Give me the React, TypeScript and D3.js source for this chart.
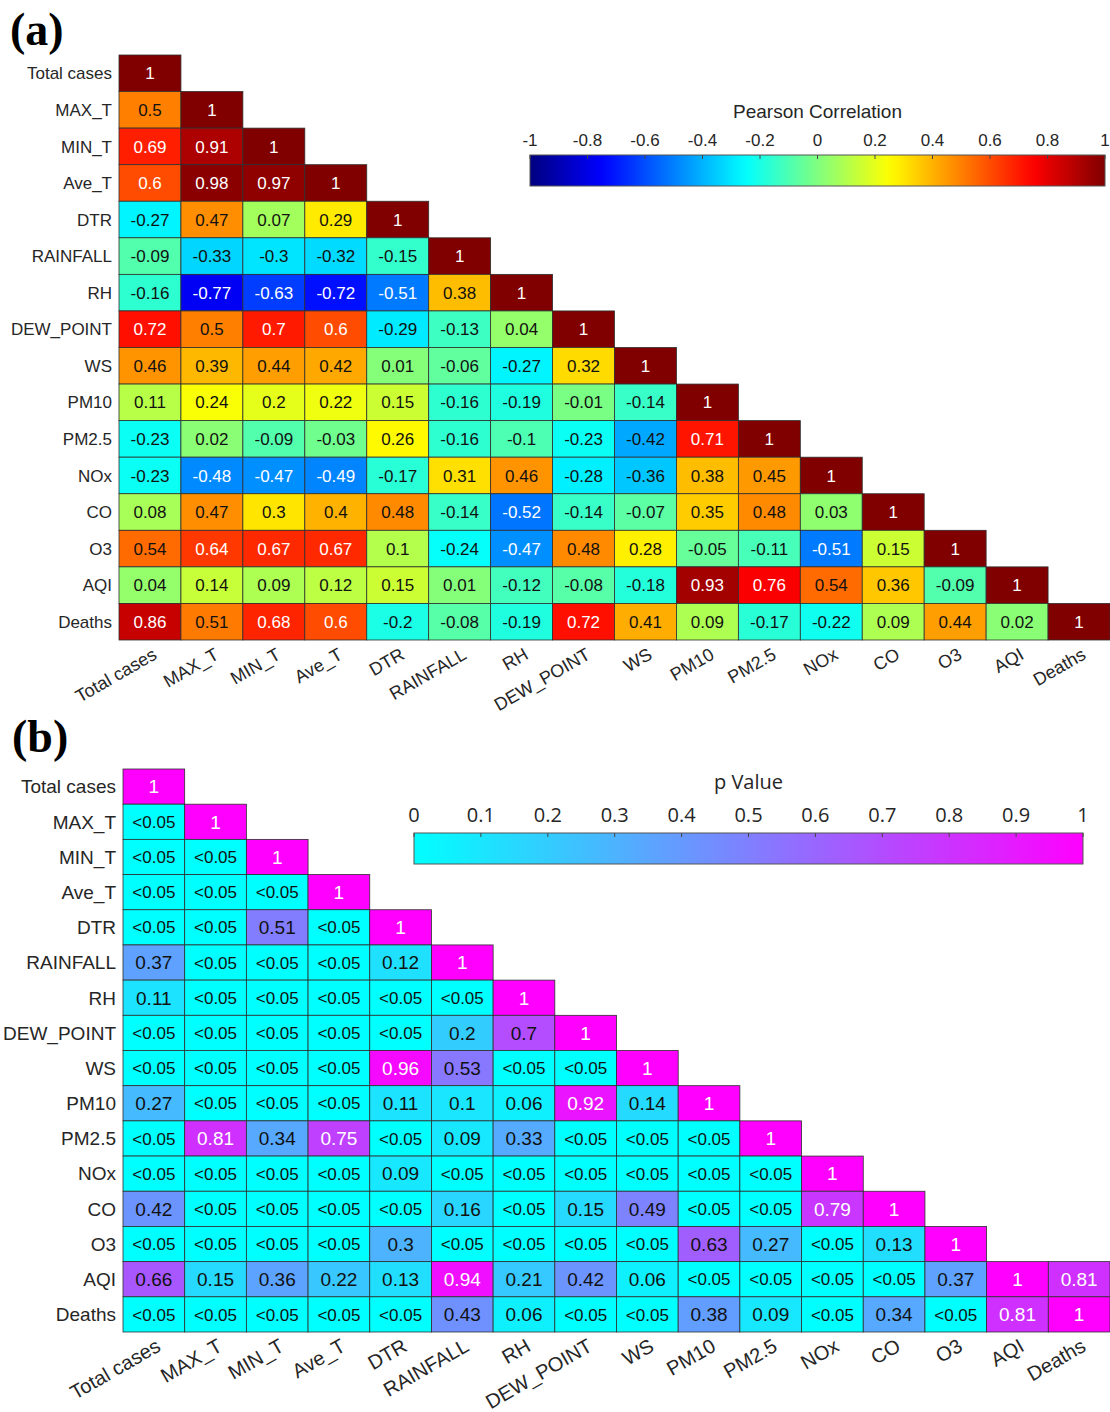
import React from 'react';
import * as d3 from 'd3';

// variable names (rows and columns in the same order)
const variables = [
  'Total cases', 'MAX_T', 'MIN_T', 'Ave_T', 'DTR', 'RAINFALL', 'RH', 'DEW_POINT',
  'WS', 'PM10', 'PM2.5', 'NOx', 'CO', 'O3', 'AQI', 'Deaths',
];

// (a) Pearson correlation, lower triangle row by row
const pearsonRows: number[][] = [
  [1],
  [0.5, 1],
  [0.69, 0.91, 1],
  [0.6, 0.98, 0.97, 1],
  [-0.27, 0.47, 0.07, 0.29, 1],
  [-0.09, -0.33, -0.3, -0.32, -0.15, 1],
  [-0.16, -0.77, -0.63, -0.72, -0.51, 0.38, 1],
  [0.72, 0.5, 0.7, 0.6, -0.29, -0.13, 0.04, 1],
  [0.46, 0.39, 0.44, 0.42, 0.01, -0.06, -0.27, 0.32, 1],
  [0.11, 0.24, 0.2, 0.22, 0.15, -0.16, -0.19, -0.01, -0.14, 1],
  [-0.23, 0.02, -0.09, -0.03, 0.26, -0.16, -0.1, -0.23, -0.42, 0.71, 1],
  [-0.23, -0.48, -0.47, -0.49, -0.17, 0.31, 0.46, -0.28, -0.36, 0.38, 0.45, 1],
  [0.08, 0.47, 0.3, 0.4, 0.48, -0.14, -0.52, -0.14, -0.07, 0.35, 0.48, 0.03, 1],
  [0.54, 0.64, 0.67, 0.67, 0.1, -0.24, -0.47, 0.48, 0.28, -0.05, -0.11, -0.51, 0.15, 1],
  [0.04, 0.14, 0.09, 0.12, 0.15, 0.01, -0.12, -0.08, -0.18, 0.93, 0.76, 0.54, 0.36, -0.09, 1],
  [0.86, 0.51, 0.68, 0.6, -0.2, -0.08, -0.19, 0.72, 0.41, 0.09, -0.17, -0.22, 0.09, 0.44, 0.02, 1],
];

// (b) p values; 'L' stands for "<0.05"
const L = '<0.05';
const pValueRows: (number | string)[][] = [
  [1],
  [L, 1],
  [L, L, 1],
  [L, L, L, 1],
  [L, L, 0.51, L, 1],
  [0.37, L, L, L, 0.12, 1],
  [0.11, L, L, L, L, L, 1],
  [L, L, L, L, L, 0.2, 0.7, 1],
  [L, L, L, L, 0.96, 0.53, L, L, 1],
  [0.27, L, L, L, 0.11, 0.1, 0.06, 0.92, 0.14, 1],
  [L, 0.81, 0.34, 0.75, L, 0.09, 0.33, L, L, L, 1],
  [L, L, L, L, 0.09, L, L, L, L, L, L, 1],
  [0.42, L, L, L, L, 0.16, L, 0.15, 0.49, L, L, 0.79, 1],
  [L, L, L, L, 0.3, L, L, L, L, 0.63, 0.27, L, 0.13, 1],
  [0.66, 0.15, 0.36, 0.22, 0.13, 0.94, 0.21, 0.42, 0.06, L, L, L, L, 0.37, 1, 0.81],
  [L, L, L, L, L, 0.43, 0.06, L, L, 0.38, 0.09, L, 0.34, L, 0.81, 1],
];

const pearsonTicks = [-1, -0.8, -0.6, -0.4, -0.2, 0, 0.2, 0.4, 0.6, 0.8, 1];
const pValueTicks = [0, 0.1, 0.2, 0.3, 0.4, 0.5, 0.6, 0.7, 0.8, 0.9, 1];

const SANS = "'Liberation Sans', Arial, Helvetica, sans-serif";

// matlab-like colormaps
const clamp = (v: number) => Math.round(255 * Math.max(0, Math.min(1, v)));
const jet = (t: number) =>
  `rgb(${clamp(1.5 - Math.abs(4 * t - 3))},${clamp(1.5 - Math.abs(4 * t - 2))},${clamp(1.5 - Math.abs(4 * t - 1))})`;
const cool = (t: number) => `rgb(${clamp(t)},${clamp(1 - t)},255)`;

// white text on dark cells
const textOn = (fill: string) => {
  const c = d3.rgb(fill);
  const lum = (0.2989 * c.r + 0.587 * c.g + 0.114 * c.b) / 255;
  return lum > 0.5 ? '#111' : '#fff';
};

interface HeatProps {
  rows: (number | string)[][];
  colour: (v: number) => string;
  left: number; right: number; top: number; bottom: number;
  labelSize: number; cellSize: number; smallSize: number; xLabelSize: number;
}

const Heatmap: React.FC<HeatProps> = ({ rows, colour, left, right, top, bottom, labelSize, cellSize, smallSize, xLabelSize }) => {
  const x = d3.scaleBand<string>().domain(variables).range([left, right]);
  const y = d3.scaleBand<string>().domain(variables).range([top, bottom]);
  const cells = rows.flatMap((r, i) => r.map((v, j) => ({ row: variables[i], col: variables[j], v })));

  return (
    <g>
      {cells.map((c, k) => {
        const num = typeof c.v === 'number' ? c.v : 0;
        const fill = colour(num);
        return (
          <g key={k}>
            <rect x={x(c.col)} y={y(c.row)} width={x.bandwidth()} height={y.bandwidth()}
              fill={fill} stroke="#2f2f2f" strokeWidth={0.8} />
            <text x={x(c.col)! + x.bandwidth() / 2} y={y(c.row)! + y.bandwidth() / 2}
              dy="0.36em" textAnchor="middle" fill={textOn(fill)}
              fontSize={typeof c.v === 'number' ? cellSize : smallSize} fontFamily={SANS}>
              {String(c.v)}
            </text>
          </g>
        );
      })}
      {variables.map(v => (
        <text key={'y' + v} x={left - 7} y={y(v)! + y.bandwidth() / 2} dy="0.36em"
          textAnchor="end" fontSize={labelSize} fontFamily={SANS} fill="#262626">{v}</text>
      ))}
      {variables.map(v => {
        const cx = x(v)! + x.bandwidth() / 2 + 8;
        const cy = bottom + 18;
        return (
          <text key={'x' + v} x={cx} y={cy} transform={`rotate(-30,${cx},${cy})`}
            textAnchor="end" fontSize={xLabelSize} fontFamily={SANS} fill="#262626">{v}</text>
        );
      })}
    </g>
  );
};

interface BarProps {
  id: string; ticks: number[]; colour: (t: number) => string;
  x0: number; x1: number; top: number; height: number;
  title: string; titleY: number; tickY: number; font: string; titleSize: number; tickSize: number;
}

const Colorbar: React.FC<BarProps> = ({ id, ticks, colour, x0, x1, top, height, title, titleY, tickY, font, titleSize, tickSize }) => {
  const sx = d3.scaleLinear().domain(d3.extent(ticks) as [number, number]).range([x0, x1]);
  const stops = d3.range(0, 1.0001, 0.02);
  return (
    <g>
      <defs>
        <linearGradient id={id} x1="0" x2="1" y1="0" y2="0">
          {stops.map(s => <stop key={s} offset={s} stopColor={colour(s)} />)}
        </linearGradient>
      </defs>
      <text x={(x0 + x1) / 2} y={titleY} textAnchor="middle" fontSize={titleSize} fontFamily={font} fill="#262626">{title}</text>
      <rect x={x0} y={top} width={x1 - x0} height={height} fill={`url(#${id})`} stroke="#555" strokeWidth={1} />
      {ticks.map(t => (
        <g key={t}>
          <line x1={sx(t)} x2={sx(t)} y1={top} y2={top + 4} stroke="#444" strokeWidth={1} />
          <text x={sx(t)} y={tickY} textAnchor="middle" fontSize={tickSize} fontFamily={font} fill="#262626">
            {String(+t.toFixed(1))}
          </text>
        </g>
      ))}
    </g>
  );
};

export default function App() {
  const pearsonColour = d3.scaleLinear().domain([-1, 1]).range([0, 1]);
  return (
    <div style={{ position: 'absolute', left: 0, top: 0, width: 1110, height: 1412, background: '#fff' }}>
      <svg width={1110} height={1412} viewBox="0 0 1110 1412">
        <rect width={1110} height={1412} fill="#fff" />

        <text x={10} y={45} fontSize={46} fontWeight="bold" fontFamily="'Liberation Serif', 'Times New Roman', serif">(a)</text>
        <Heatmap rows={pearsonRows} colour={v => jet(pearsonColour(v))}
          left={119} right={1110} top={55} bottom={640}
          labelSize={17} cellSize={17} smallSize={17} xLabelSize={18} />
        <Colorbar id="jetbar" ticks={pearsonTicks} colour={jet} x0={530} x1={1105} top={155} height={31}
          title="Pearson Correlation" titleY={118} tickY={146} font={SANS} titleSize={19} tickSize={17} />

        <text x={12} y={752} fontSize={46} fontWeight="bold" fontFamily="'Liberation Serif', 'Times New Roman', serif">(b)</text>
        <Heatmap rows={pValueRows} colour={cool}
          left={123} right={1110} top={769} bottom={1332}
          labelSize={19} cellSize={19} smallSize={17} xLabelSize={20} />
        <Colorbar id="coolbar" ticks={pValueTicks} colour={cool} x0={414} x1={1083} top={833} height={31}
          title="p Value" titleY={789} tickY={822} font="'Liberation Sans Narrow', 'Open Sans', sans-serif" titleSize={20} tickSize={20} />
      </svg>
    </div>
  );
}
